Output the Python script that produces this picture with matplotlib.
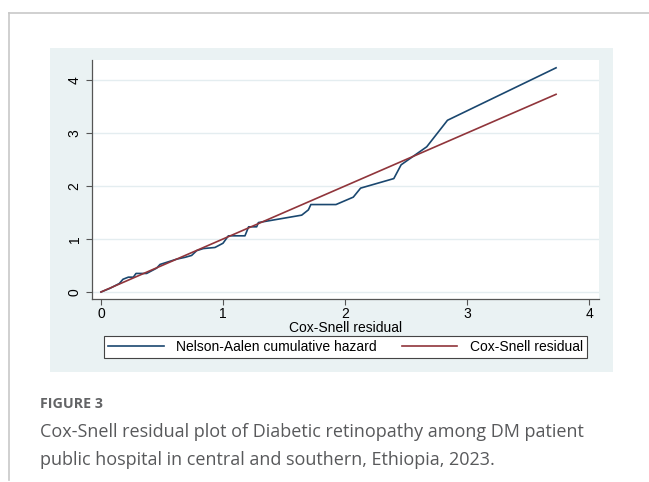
import numpy as np
import matplotlib
matplotlib.use("Agg")
import matplotlib.pyplot as plt
from matplotlib.patches import Rectangle
from matplotlib.lines import Line2D

plt.rcParams['font.family'] = ['Liberation Sans', 'DejaVu Sans']

# Cox-Snell residual (x) and Nelson-Aalen cumulative hazard (y)
cs_resid = [0.0, 0.074, 0.15, 0.18, 0.224, 0.265, 0.287, 0.374, 0.456, 0.484,
            0.566, 0.62, 0.69, 0.743, 0.784, 0.839, 0.934, 1.0, 1.044, 1.18,
            1.21, 1.276, 1.29, 1.645, 1.70, 1.72, 1.926, 2.068, 2.128, 2.40,
            2.46, 2.67, 2.84, 3.73]
na_hazard = [0.0, 0.07, 0.16, 0.24, 0.28, 0.28, 0.35, 0.35, 0.45, 0.52,
             0.58, 0.62, 0.655, 0.69, 0.78, 0.82, 0.84, 0.92, 1.06, 1.06,
             1.23, 1.23, 1.31, 1.45, 1.55, 1.65, 1.65, 1.79, 1.96, 2.14,
             2.40, 2.74, 3.24, 4.23]
ref_line = [0.0, 3.73]

xticks = [0, 1, 2, 3, 4]
yticks = [0, 1, 2, 3, 4]

W, H = 649, 482
navy = "#1a476f"
maroon = "#90353b"

def fx(px):
    return px / W

def fy(py):
    return 1 - py / H

fig = plt.figure(figsize=(W / 100, H / 100), dpi=100)
fig.patch.set_facecolor("white")

# outer page frame (top and left rules)
fig.add_artist(Line2D([fx(9), 1], [fy(13), fy(13)], color="#c8c8c8", lw=1.2))
fig.add_artist(Line2D([fx(9), fx(9)], [fy(13), fy(480)], color="#c8c8c8", lw=1.2))

# stata graph region
fig.add_artist(Rectangle((fx(50), fy(372)), fx(613) - fx(50), fy(48) - fy(372),
                         facecolor="#eaf2f3", edgecolor="none", zorder=0))

ax = fig.add_axes([fx(92), fy(299), fx(599) - fx(92), fy(60) - fy(299)])
ax.set_facecolor("white")
ax.plot(cs_resid, na_hazard, color=navy, lw=1.2, label="Nelson-Aalen cumulative hazard")
ax.plot(ref_line, ref_line, color=maroon, lw=1.2, label="Cox-Snell residual")

ax.set_xlim((92 - 101) / 122, (599 - 101) / 122)
ax.set_ylim((292 - 299) / 53, (292 - 60) / 53)
ax.set_xticks(xticks)
ax.set_yticks(yticks)
ax.set_yticklabels([str(t) for t in yticks], rotation=90, va="center")
ax.tick_params(direction="out", length=4.5, width=0.8, color="#555555",
               labelsize=10, labelcolor="black")
ax.tick_params(axis="x", pad=1.5)
ax.tick_params(axis="y", pad=3)
ax.grid(axis="y", color="#e4edf0", lw=1.0)
ax.set_axisbelow(True)
for s in ["top", "right"]:
    ax.spines[s].set_visible(False)
for s in ["left", "bottom"]:
    ax.spines[s].set_color("#555555")
    ax.spines[s].set_linewidth(0.9)
ax.set_xlabel("Cox-Snell residual", fontsize=10, labelpad=0)

h, l = ax.get_legend_handles_labels()
leg = fig.legend(h, l, ncol=2, mode="expand", loc="lower left",
                 bbox_to_anchor=(fx(104), fy(358), fx(587) - fx(104), fy(334) - fy(358)),
                 fancybox=False, edgecolor="#444444", framealpha=1, fontsize=10,
                 handlelength=4.0, borderaxespad=0, borderpad=0.3, handletextpad=0.9)
leg.get_frame().set_linewidth(0.8)

# caption
fig.text(fx(40), fy(404), "FIGURE 3", fontsize=10.3, fontweight="bold", color="#636466",
         family="Open Sans", va="center")
fig.text(fx(40), fy(432), "Cox-Snell residual plot of Diabetic retinopathy among DM patient",
         fontsize=13, color="#58595b", family="Open Sans", va="center")
fig.text(fx(40), fy(460), "public hospital in central and southern, Ethiopia, 2023.",
         fontsize=13, color="#58595b", family="Open Sans", va="center")

fig.savefig("out.png", dpi=100)
